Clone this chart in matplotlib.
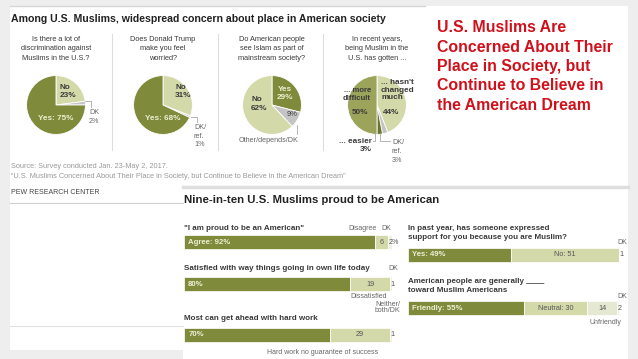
import matplotlib.pyplot as plt
from matplotlib.patches import Rectangle

plt.rcParams['font.family'] = ['Liberation Sans', 'DejaVu Sans']

W, H = 638, 359

# ---- pie data (clockwise from 12 o'clock) ----
pie_questions = [
    "Is there a lot of\ndiscrimination against\nMuslims in the U.S.?",
    "Does Donald Trump\nmake you feel\nworried?",
    "Do American people\nsee Islam as part of\nmainstream society?",
    "In recent years,\nbeing Muslim in the\nU.S. has gotten ...",
]
pie1_values = [23, 2, 75]          # No, DK, Yes
pie2_values = [31, 1, 68]          # No, DK/ref, Yes
pie3_values = [29, 9, 62]          # Yes, Other/depends/DK, No
pie4_values = [44, 3, 3, 50]       # hasn't changed, DK/ref, easier, more difficult

# ---- bar data ----
left_questions = ['"I am proud to be an American"',
                  "Satisfied with way things going in own life today",
                  "Most can get ahead with hard work"]
left_values = [[92, 6, 2], [80, 19, 1], [70, 29, 1]]
left_labels = [["Agree: 92%", "6", "2%"], ["80%", "19", "1"], ["70%", "29", "1"]]

right_questions = ["In past year, has someone expressed\nsupport for you because you are Muslim?",
                   "American people are generally ____\ntoward Muslim Americans"]
right_values = [[49, 51, 1], [55, 30, 14, 2]]
right_labels = [["Yes: 49%", "No: 51", "1"], ["Friendly: 55%", "Neutral: 30", "14", "2"]]

headline = ["U.S. Muslims Are", "Concerned About Their", "Place in Society, but",
            "Continue to Believe in", "the American Dream"]

DARK = '#7f8a3b'
MID = '#9ca35b'
DEEP = '#6b7530'
LIGHT = '#d4d9aa'
LIGHTER = '#e6e9d1'
PALE = '#eef0e2'
GRAY = '#c4c4c4'
TXT = '#3a3a3a'
SUB = '#666666'


def px_axes(x0, y0, w, h):
    return fig.add_axes([x0 / W, 1 - (y0 + h) / H, w / W, h / H])


def full_axes():
    a = fig.add_axes([0, 0, 1, 1])
    a.set_xlim(0, W)
    a.set_ylim(H, 0)
    a.axis('off')
    return a


fig = plt.figure(figsize=(6.38, 3.59), dpi=100, facecolor='#eeeeee')
bg = full_axes()

# white panels
for x0, y0, w, h in [(10, 6, 618, 180), (10, 186, 173, 164), (183, 186, 445, 173)]:
    bg.add_patch(Rectangle((x0, y0), w, h, facecolor='white', edgecolor='none'))
bg.plot([10, 425], [5.5, 5.5], color='#d6d6d6', lw=1)
bg.plot([183, 628], [186.5, 186.5], color='#dedede', lw=2.5)
bg.plot([10, 183], [203, 203], color='#d0d0d0', lw=0.8)
bg.plot([10, 183], [326, 326], color='#e2e2e2', lw=0.8)
for sx in [112, 218, 323]:
    bg.plot([sx, sx], [34, 150], color='#dddddd', lw=0.8)

# ---- pies ----
centers = [56, 163, 272, 377]
R = 30
pie_sets = [
    (pie1_values, [LIGHT, GRAY, DARK]),
    (pie2_values, [LIGHT, GRAY, DARK]),
    (pie3_values, [DARK, GRAY, LIGHT]),
    (pie4_values, [LIGHT, GRAY, DEEP, MID]),
]
for cx, (vals, cols) in zip(centers, pie_sets):
    ax = px_axes(cx - R, 105 - R, 2 * R, 2 * R)
    ax.pie(vals, colors=cols, startangle=90, counterclock=False, radius=1,
           wedgeprops=dict(edgecolor='white', linewidth=0.6))
    ax.set_xlim(-1.02, 1.02)
    ax.set_ylim(-1.02, 1.02)
    ax.axis('off')


# ---- bars ----
def bar_group(x0, x1, rows, values, labels, colors):
    ax = px_axes(x0, 186, x1 - x0, H - 186)
    ax.set_xlim(0, 100)
    ax.set_ylim(H, 186)
    ax.axis('off')
    for y, vals, labs in zip(rows, values, labels):
        left = 0
        for i, (v, lab) in enumerate(zip(vals, labs)):
            ax.barh(y, v, left=left, height=14, color=colors[i],
                    edgecolor='white', linewidth=0.5)
            if i == 0:
                ax.text(2, y, lab, fontsize=5.6, fontweight='bold', color='#eef0d6',
                        va='center', ha='left')
            elif i == len(vals) - 1:
                # tiny DK slice: label sits at its left edge
                ax.text(left + 0.3, y, lab, fontsize=5.2, color='#555555',
                        va='center', ha='left')
            else:
                ax.text(left + v / 2, y, lab, fontsize=5.2, color='#555555',
                        va='center', ha='center')
            left += v
    return ax


bar_group(184, 392, [242, 284, 335], left_values, left_labels, [DARK, LIGHT, PALE])
bar_group(408, 619, [255, 308], right_values, right_labels, [DARK, LIGHT, LIGHTER, PALE])

# ---- all text on top ----
fg = full_axes()
fg.patch.set_visible(False)

fg.text(11, 19, "Among U.S. Muslims, widespread concern about place in American society",
        fontsize=7.6, fontweight='bold', color='#222222', va='center')
for cx, q in zip(centers, pie_questions):
    fg.text(cx, 49, q, fontsize=5.3, color=TXT, ha='center', va='center', linespacing=1.55)

bk = dict(fontsize=5.9, fontweight='bold', va='center')
rg = dict(fontsize=5.2, va='center', color=SUB)
lc = dict(color='#aaaaaa', lw=0.6)
# pie 1
fg.text(60, 91.5, "No\n23%", color=TXT, linespacing=1.3, ha='left', **bk)
fg.text(56, 118, "Yes: 75%", color='#ecefd2', ha='center', **bk)
fg.plot([85, 91, 91], [101, 101, 107], **lc)
fg.text(89, 117, "DK\n2%", linespacing=1.3, ha='left', **rg)
# pie 2
fg.text(175, 91.5, "No\n31%", color=TXT, linespacing=1.3, ha='left', **bk)
fg.text(163, 118, "Yes: 68%", color='#ecefd2', ha='center', **bk)
fg.plot([191, 197, 197], [117, 117, 122], **lc)
fg.text(194, 136, "DK/\nref.\n1%", linespacing=1.3, ha='left', **rg)
# pie 3
fg.text(285, 93.5, "Yes\n29%", color='#ecefd2', linespacing=1.3, ha='center', **bk)
fg.text(251, 104, "No\n62%", color=TXT, linespacing=1.3, ha='left', **bk)
fg.text(292, 115, "9%", color=TXT, fontsize=5.4, ha='center', va='center')
fg.plot([297, 297], [125, 134], **lc)
fg.text(268.5, 141, "Other/depends/DK", ha='center', **rg)
# pie 4
fg.text(381, 90, "... hasn't\nchanged\nmuch", color=TXT, linespacing=1.05, ha='left', **bk)
fg.text(383, 112, "44%", color=TXT, ha='left', **bk)
fg.text(371, 94.5, "... more\ndifficult", color=TXT, linespacing=1.05, ha='right',
        fontsize=5.6, fontweight='bold', va='center')
fg.text(359.5, 112, "50%", color=TXT, ha='center', **bk)
fg.plot([375, 375, 373], [133, 141, 141], **lc)
fg.text(372, 145.5, "... easier\n3%", color=TXT, linespacing=1.25, ha='right', **bk)
fg.plot([380, 380, 390], [133, 141, 141], **lc)
fg.text(392, 151.5, "DK/\nref.\n3%", linespacing=1.3, ha='left', **rg)

fg.text(11, 167, "Source: Survey conducted Jan. 23-May 2, 2017.", fontsize=5.3,
        color='#9a9a9a', va='center')
fg.text(11, 177, "\u201cU.S. Muslims Concerned About Their Place in Society, but Continue to Believe in the American Dream\u201d",
        fontsize=5.3, color='#9a9a9a', va='center')
fg.text(11, 193, "PEW RESEARCH CENTER", fontsize=5.0, color='#444444', va='center')

# red headline
for i, line in enumerate(headline):
    fg.text(437, 28 + i * 19.3, line, fontsize=11.4, fontweight='bold',
            color='#d0101a', va='center')

# bottom chart text
fg.text(184, 200, "Nine-in-ten U.S. Muslims proud to be American", fontsize=8.2,
        fontweight='bold', color='#222222', va='center')
qb = dict(fontsize=5.8, fontweight='bold', color=TXT, va='center')
for y, q in zip([228, 268, 318], left_questions):
    fg.text(184, y, q, **qb)
for y, q in zip([233, 286], right_questions):
    fg.text(408, y, q, linespacing=1.45, **qb)

rb = dict(fontsize=5, va='center', color=SUB)
fg.text(377, 228, "Disagree", ha='right', **rb)
fg.text(386, 228, "DK", ha='center', **rb)
fg.text(393, 268, "DK", ha='center', **rb)
fg.text(369, 297, "Dissatisfied", ha='center', **rb)
fg.text(400, 304, "Neither/", ha='right', **rb)
fg.text(400, 311, "both/DK", ha='right', **rb)
fg.text(323, 352, "Hard work no guarantee of success", ha='center', **rb)
fg.text(622, 242, "DK", ha='center', **rb)
fg.text(622, 297, "DK", ha='center', **rb)
fg.text(605, 322, "Unfriendly", ha='center', **rb)

fig.savefig('out.png', dpi=100, facecolor=fig.get_facecolor())
